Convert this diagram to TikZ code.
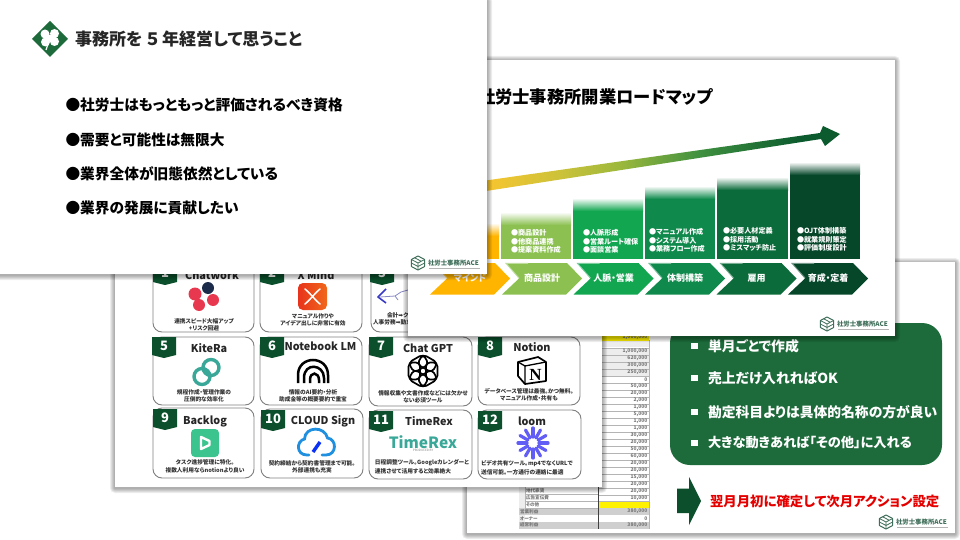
\documentclass[tikz,border=0pt]{standalone}
\usepackage{fontspec}
\setmainfont{Noto Sans CJK JP}[RawFeature=+palt]
\newfontfamily\dejavufont{DejaVu Sans}
\newfontfamily\serifnfont{Liberation Serif}
\usetikzlibrary{shapes.geometric}
\definecolor{logoc}{HTML}{3F6E5A}
\definecolor{badgec}{HTML}{0B4F2C}
\definecolor{cardc}{HTML}{808080}
\definecolor{boxc}{HTML}{1D6B3B}
\definecolor{cyel}{HTML}{FFB400}
\definecolor{clime}{HTML}{8CC152}
\definecolor{cg1}{HTML}{12A651}
\definecolor{cg2}{HTML}{0F8A4C}
\definecolor{cg3}{HTML}{0C6B3A}
\definecolor{cg4}{HTML}{06472A}
\definecolor{arrowa}{HTML}{F6C52F}
\definecolor{arrowc}{HTML}{CCC23A}
\definecolor{arrowm}{HTML}{9CB83C}
\definecolor{arrown}{HTML}{3F9040}
\definecolor{arrowb}{HTML}{0B5B2E}
\definecolor{cloudc}{HTML}{1F8FE0}
\definecolor{loomc}{HTML}{625DF5}
\definecolor{teal}{HTML}{3AA898}
\definecolor{rowg}{HTML}{CFCFCF}
\definecolor{rowl}{HTML}{EDEDED}
\definecolor{gridc}{HTML}{B4B4B4}
\definecolor{cellt}{HTML}{777777}
\definecolor{yelcell}{HTML}{FFF200}
\definecolor{cwred}{HTML}{E8384F}
\definecolor{cwnavy}{HTML}{1C2B4A}
\definecolor{xma}{HTML}{E8341C}
\definecolor{xmb}{HTML}{F0681A}
\definecolor{blg}{HTML}{3CC48F}
\pgfdeclarehorizontalshading{roadarrow}{100bp}{color(0bp)=(arrowa); color(31bp)=(arrowa); color(40bp)=(arrowc); color(47.5bp)=(arrowm); color(57.5bp)=(arrown); color(70bp)=(arrowb); color(100bp)=(arrowb)}
\newcommand\fs[1]{\fontsize{#1}{#1}\selectfont}
\tikzset{
  x=1pt,y=-1pt,
  txt/.style={inner sep=0pt,outer sep=0pt,text=black,font=\bfseries},
  cardbox/.style={draw=cardc,line width=.9pt,fill=white,rounded corners=9pt},
  cardtitle/.style={txt,text=black!85,font=\fs{10.8}\bfseries},
  cardnote/.style={txt,text=black!80,font=\fs{5.7}\bfseries,align=center},
  badgenum/.style={txt,text=white,font=\fs{13}\bfseries},
  coltext/.style={txt,text=white,font=\fs{7.1}\bfseries,anchor=west},
  chevtext/.style={txt,text=white,font=\fs{9}\bfseries},
  celltext/.style={txt,text=cellt,font=\fs{5}\bfseries,anchor=east},
  rowlabel/.style={txt,text=cellt,font=\fs{4.6}\bfseries,anchor=west},
  bigline/.style={txt,font=\fs{14.7}\bfseries,anchor=west},
  boxline/.style={txt,text=white,font=\fs{13.8}\bfseries,anchor=west},
}
% slide background with soft shadow
\newcommand\slideback[4]{%
  \foreach \i in {5,4,3,2,1}{%
    \fill[black,opacity=.07,rounded corners=\i pt] (#1-\i,#2-\i+1) rectangle (#3+\i,#4+\i+1);}
  \fill[white] (#1,#2) rectangle (#3,#4);}
\newcommand\acelogo[4]{% cx cy textx name
  \begin{scope}[shift={(#1,#2)}]
    \draw[logoc,line width=1pt,line join=round] (0,-7)--(6.6,-3.5)--(6.6,3.5)--(0,7)--(-6.6,3.5)--(-6.6,-3.5)--cycle;
    \draw[logoc,line width=.8pt] (-6.6,-3.5)--(0,0)--(6.6,-3.5) (0,0)--(0,7) (-6.6,0)--(0,3.5)--(6.6,0) (-3.3,-5.2)--(3.3,-1.7);
  \end{scope}
  \node[txt,text=logoc,font=\fs{6.4}\bfseries,anchor=west] (#4) at (#3,#2) {社労士事務所ACE};
  \draw[gridc,line width=.4pt] (#3+1,#2+5) -- (#3+52,#2+5);}
\newcommand\rcol[5]{% x1 x2 top color name
  \shade[top color=white,bottom color=#4] (#1,#3) rectangle (#2,#3+13);
  \fill[#4] (#1,#3+12.8) rectangle (#2,259);
  \coordinate (#5) at (#1,#3);}
\newcommand\chev[4]{% dx colour name text
  \begin{scope}[xshift=#1 pt]
    \fill[#2] (502,294.5)--(519,278.5)--(506,263)--(567,263)--(582,278.5)--(566,294.5)--cycle;
    \draw[#2!55!white,line width=.9pt] (519,278)--(506,263.4)--(528,263.4);
    \node[chevtext] (#3) at (542,278) {#4};
  \end{scope}}
\newcommand\badge[4]{% x top num name
  \fill[badgec] (#1,#2)--(#1+24,#2)--(#1+24,#2+18)--(#1+12,#2+21)--(#1,#2+18)--cycle;
  \node[badgenum] (#4) at (#1+12,#2+9) {#3};}
\begin{document}
\begin{tikzpicture}
\useasboundingbox (0,0) rectangle (960,540);
\fill[white] (0,0) rectangle (960,540);

% ---------- slide 4 : spreadsheet ----------
\slideback{467}{262}{955}{533}
\fill[rowl] (519,487) rectangle (598,501);
\fill[white] (525,487) rectangle (598,508);
\fill[rowl] (519,501) rectangle (525,508);
\fill[rowg] (519,508) rectangle (649,515);
\fill[rowl] (519,515) rectangle (649,522);
\fill[white] (525,515) rectangle (649,522);
\fill[rowg] (519,522) rectangle (649,528.5);
\foreach \yy in {494,501,508}{\draw[gridc,line width=.4pt] (525,\yy) -- (598,\yy);}
\foreach \yy in {487,494,501}{\draw[gridc,line width=.4pt] (525,\yy) -- (525,\yy+7);}
\node[rowlabel] (lab1) at (526,491) {地代家賃};
\node[rowlabel] (lab2) at (526,498) {広告宣伝費};
\node[rowlabel] (lab3) at (526,504.5) {その他};
\node[rowlabel] (lab4) at (520,511.5) {営業利益};
\node[rowlabel] (lab5) at (520,518.5) {オーナー};
\node[rowlabel] (lab6) at (520,525) {経常利益};
% value column
\fill[yelcell] (598,332) rectangle (649,340.5);
\fill[rowl] (598,340.5) rectangle (649,347);
\fill[rowl] (598,348) rectangle (649,376);
\fill[yelcell] (598,501) rectangle (649,508);
\foreach \yy in {348,355,362,369,376,383,390,397,404,411,418,425,432,439,446,453,460,467,474,481,488,495,501}{
  \draw[gridc,line width=.4pt] (598,\yy) -- (649,\yy);}
\draw[gridc,line width=.4pt] (649,340) -- (649,529);
\foreach \yy/\vv in {337.5/{1,000,000},351.5/{1,000,000},358.5/{620,000},365.5/{300,000},372.5/{250,000},379.5/0,386.5/{50,000},393.5/{20,000},400.5/{2,000},407.5/{1,000},414.5/{5,000},421.5/{1,000},428.5/{1,000},435.5/{30,000},442.5/{20,000},449.5/{50,000},456.5/{60,000},463.5/{20,000},470.5/{20,000},477.5/{15,000},484.5/{20,000},491.5/{20,000},498/{10,000},511.5/{380,000},518.5/0,525/{380,000}}{
  \node[celltext] at (647.5,\yy) {\vv};}
\draw[black!75,line width=.6pt] (598,340) -- (598,528.5);
% green box
\fill[boxc,rounded corners=20pt] (670,323) rectangle (942,465);
\foreach \yy/\tt in {346/単月ごとで作成,378/売上だけ入れればOK,412/勘定科目よりは具体的名称の方が良い}{
  \node[boxline] at (708,\yy) {\tt};
  \fill[white] (691,\yy-3.2) rectangle (697.5,\yy+3.2);}
\node[boxline,font=\fs{13.2}\bfseries] (boxlast) at (708,443) {大きな動きあれば「その他」に入れる};
\fill[white] (691,439.8) rectangle (697.5,446.2);
% arrow + red note
\fill[badgec] (677,488.5)--(689,488.5)--(689,477)--(701,501)--(689,525)--(689,513)--(677,513)--cycle;
\node[txt,text=red!90!black,font=\fs{13.4}\bfseries,anchor=west] (nextmonth) at (710,501) {翌月月初に確定して次月アクション設定};
\acelogo{886}{522}{896}{logoD}

% ---------- slide 3 : tools ----------
\slideback{115}{262}{602}{487}
\draw[cardbox] (153,262) rectangle (254,332);
\draw[cardbox] (260,262) rectangle (362,332);
\draw[cardbox] (371,262) rectangle (472,332);
\draw[cardbox] (153,337) rectangle (254,405);
\draw[cardbox] (260,337) rectangle (362,405);
\draw[cardbox] (369,337) rectangle (472,406);
\draw[cardbox] (478,337) rectangle (580,405);
\draw[cardbox] (153,408) rectangle (254,478);
\draw[cardbox] (261,409) rectangle (363,478);
\draw[cardbox] (369,410) rectangle (472,479);
\draw[cardbox] (478,410) rectangle (581,479);
\badge{153}{264}{1}{b1}
\badge{260}{264}{2}{b2}
\badge{370}{264}{3}{b3}
\badge{152}{337}{5}{b5}
\badge{260}{337}{6}{b6}
\badge{369}{337}{7}{b7}
\badge{478}{337}{8}{b8}
\badge{153}{409}{9}{b9}
\badge{261}{410}{10}{b10}
\badge{369}{411}{11}{b11}
\badge{478}{411}{12}{b12}
\node[cardtitle] (t1) at (212,275) {Chatwork};
\node[cardtitle] (t2) at (316,275) {X Mind};
\node[cardtitle] (t5) at (209,348) {KiteRa};
\node[cardtitle] (t6) at (320.5,346.5) {Notebook LM};
\node[cardtitle] (t7) at (428,348) {Chat GPT};
\node[cardtitle] (t8) at (532,347) {Notion};
\node[cardtitle] (t9) at (205,421) {Backlog};
\node[cardtitle] (t10) at (323,421.5) {CLOUD Sign};
\node[cardtitle] (t11) at (429,421.5) {TimeRex};
\node[cardtitle] (t12) at (532,421.5) {loom};
\node[cardnote] (n1) at (204,324.5) {連携スピード大幅アップ\\[1.3pt]+リスク回避};
\node[cardnote] (n2) at (313,320) {マニュアル作りや\\[1.3pt]アイデア出しに非常に有効};
\node[cardnote,anchor=west] (n3a) at (387,315) {会計{\dejavufont ➡}クラウド};
\node[cardnote,anchor=west] (n3b) at (373,322) {人事労務{\dejavufont ➡}勤怠};
\node[cardnote] (n5) at (204,395.5) {規程作成・管理作業の\\[1.3pt]圧倒的な効率化};
\node[cardnote] (n6) at (313,395.5) {情報のAI要約・分析\\[1.3pt]助成金等の概要要約で重宝};
\node[cardnote] (n7) at (423,396.5) {情報収集や文書作成などには欠かせ\\[1.3pt]ない必須ツール};
\node[cardnote] (n8) at (529,394.5) {データベース管理は最強。かつ無料。\\[1.3pt]マニュアル作成・共有も};
\node[cardnote] (n9) at (205,466) {タスク進捗管理に特化。\\[2pt]複数人利用ならnotionより良い};
\node[cardnote] (n10) at (312,466.5) {契約締結から契約書管理まで可能。\\[1.5pt]外部連携も充実};
\node[cardnote,align=left] (n11) at (422,467) {日程調整ツール。Googleカレンダーと\\[2pt]連携させて活用すると効果絶大};
\node[cardnote,align=left] (n12) at (527,468) {ビデオ共有ツール。mp4でなくURLで\\[2pt]送信可能。一方通行の連絡に最適};
% icons
\fill[cwnavy] (208,288) circle (6pt);
\fill[cwred] (195,294) circle (6.5pt) (213,300) circle (6pt) (199,305) circle (6pt);
\shade[left color=xma,right color=xmb,rounded corners=5pt] (298,283) rectangle (327,310);
\draw[white,line width=1.5pt,line cap=round] (305,289) .. controls (311,294) and (314,299) .. (320,304) (320,289) .. controls (314,294) and (311,299) .. (305,304);
% card 3 icon
\draw[blue!55!gray,line width=1.6pt,line join=round] (386,289) -- (378,297) -- (386,303);
\draw[blue!35!gray!70,line width=.8pt] (380,297) -- (395,296) -- (401,292) -- (408,290) (395,296) -- (398,300);
% kitera
\draw[teal,line width=3.4pt] (211,367.5) circle (8pt) (202,376.5) circle (8pt);
% notebook lm
\begin{scope}[black,line width=2.5pt]
  \draw (298,383) -- (298,375) .. controls (298,355) and (328,355) .. (328,375) -- (328,383);
  \draw (304,383) -- (304,378) .. controls (304,362) and (324,364) .. (324,378) -- (324,383);
  \draw (310,383) -- (310,380) .. controls (310,371) and (319,372) .. (319,380) -- (319,383);
\end{scope}
% chatgpt
\foreach \aa in {0,60,...,300}{\draw[black,line width=1.7pt,rounded corners=4pt,rotate around={\aa:(423,371)}] (426,362.5) rectangle (437.5,379.5);}
% notion
\draw[black,line width=1.7pt,fill=white,line join=round] (518,362)--(538,357)--(546,362)--(546,381)--(525,384)--(518,376)--cycle;
\draw[black,line width=1.3pt] (518,362)--(525,366)--(546,362) (525,366)--(525,384);
\node[inner sep=0pt,font=\serifnfont\fs{17}\bfseries] (notionN) at (535.5,374.5) {N};
% backlog
\fill[blg,rounded corners=4pt] (191,429) rectangle (219,457);
\draw[white,line width=2.4pt,line join=round] (201,437)--(201,449)--(209.5,445)--(209.5,441)--cycle;
% cloud sign
\draw[cloudc,line width=2.8pt,line cap=round] (309,455) -- (307,455) .. controls (296,455) and (296,441) .. (304.5,439) .. controls (305,426) and (325,426) .. (327.5,438) .. controls (337,439) and (337,455) .. (326,455) -- (322,455);
\draw[blue!65!cloudc,line width=3.4pt] (320,442) -- (313,452);
% timerex
\node[txt,text=teal,font=\fs{15.5}\bfseries] (timerexlogo) at (423,442) {TimeRex};
\node[txt,text=gray,font=\fs{3}] (timerexsub) at (423,450.5) {PRODUCED BY};
% loom
\foreach \aa in {0,30,...,330}{\draw[loomc,line width=3.2pt,line cap=round,rotate around={\aa:(533,443)}] (539,443) -- (548,443);}
\draw[loomc,line width=1.5pt] (533,443) circle (6pt);

% ---------- slide 2 : roadmap ----------
\slideback{408}{60}{895}{336}
\node[txt,font=\fs{17.3}\bfseries,anchor=west] (title2) at (478,97) {社労士事務所開業ロードマップ};
\shade[shading=roadarrow] (440,187)--(820,133)--(823,126)--(840,134)--(825,146)--(821,139)--(441,198)--cycle;
\rcol{432}{499}{223}{cyel}{c1}
\rcol{501}{571}{212}{clime}{c2}
\rcol{573}{643}{198}{cg1}{c3}
\rcol{645}{715}{186}{cg2}{c4}
\rcol{717}{788}{177}{cg3}{c5}
\rcol{790}{860}{162}{cg4}{c6}
\foreach \yy/\tt in {233/●商品設計,241.7/●他商品連携,250/●提案資料作成}{\node[coltext] at (511,\yy) {\tt};}
\foreach \yy/\tt in {233/●人脈形成,241.7/●営業ルート確保,250/●面談営業}{\node[coltext] at (583,\yy) {\tt};}
\foreach \yy/\tt in {232/●マニュアル作成,240.7/●システム導入,249/●業務フロー作成}{\node[coltext] at (649,\yy) {\tt};}
\foreach \yy/\tt in {231/●必要人材定義,239.5/●採用活動,248/●ミスマッチ防止}{\node[coltext] at (723,\yy) {\tt};}
\foreach \yy/\tt in {231/●OJT体制構築,240/●就業規則策定,248/●評価制度設計}{\node[coltext] at (797,\yy) {\tt};}
\chev{-72}{cyel}{ch1}{マインド}
\chev{0}{clime}{ch2}{商品設計}
\chev{71.5}{cg1}{ch3}{人脈・営業}
\chev{143}{cg2}{ch4}{体制構築}
\chev{214.5}{cg3}{ch5}{雇用}
\chev{286}{cg4}{ch6}{育成・定着}
\acelogo{827}{324}{837}{logoB}

% ---------- slide 1 : reflections ----------
\slideback{0}{0}{487}{274}
\fill[boxc] (50,21)--(68,39)--(50,57)--(32,39)--cycle;
\fill[white] (45,34) circle (4.5pt) (54.5,33.5) circle (4.5pt) (45.5,42) circle (4.5pt) (54.5,41.5) circle (4.5pt) (50,38) circle (3pt);
\draw[white,line width=1.2pt] (50,38) -- (46,50);
\node[txt,text=black!85,font=\fs{17}\bfseries,anchor=west] (title1) at (75,39) {事務所を\hspace{3.5pt}５\hspace{3.5pt}年経営して思うこと};
\node[bigline] (p1) at (65.5,105) {●社労士はもっともっと評価されるべき資格};
\node[bigline] (p2) at (65.5,140) {●需要と可能性は無限大};
\node[bigline] (p3) at (65.5,174) {●業界全体が旧態依然としている};
\node[bigline] (p4) at (65.5,208) {●業界の発展に貢献したい};
\acelogo{418}{263}{428}{logoA}
\end{tikzpicture}
\end{document}
